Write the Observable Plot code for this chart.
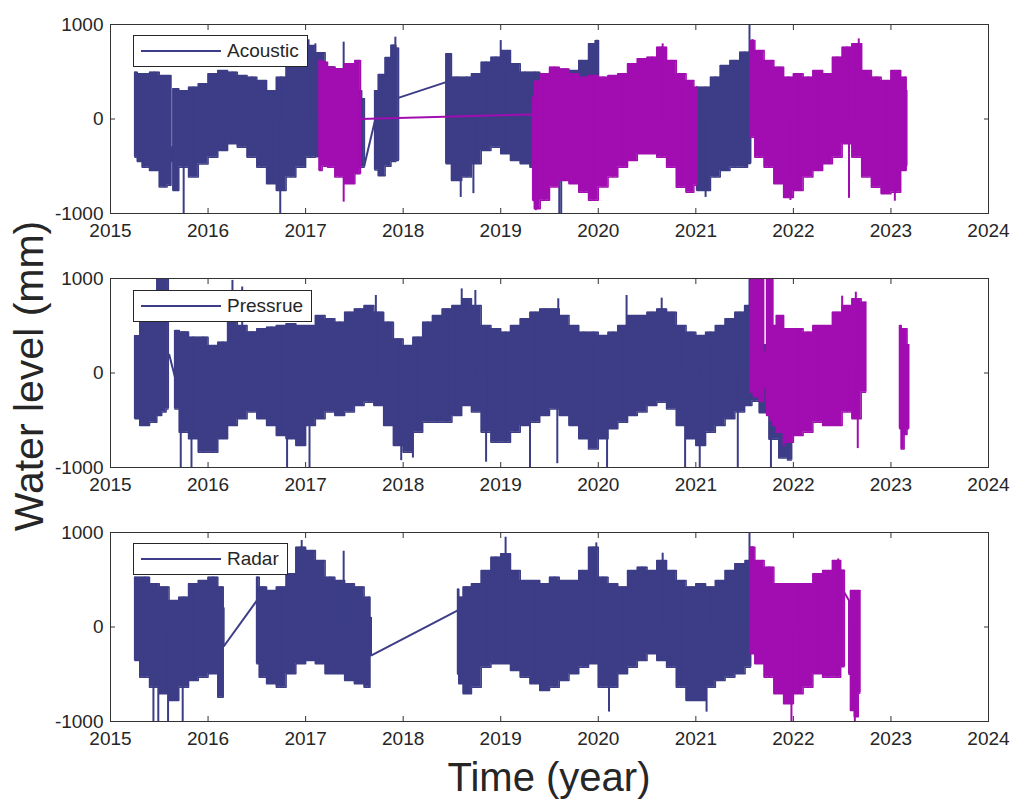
<!DOCTYPE html>
<html><head><meta charset="utf-8">
<script src="https://cdn.jsdelivr.net/npm/d3@7"></script>
<script src="https://cdn.jsdelivr.net/npm/@observablehq/plot@0.6"></script>
<style>
body{margin:0;background:#fff;font-family:"Liberation Sans",Arial,sans-serif;}
#wrap{position:relative;width:1013px;height:801px;overflow:hidden;}
.panel{position:absolute;left:0;}
.legend{position:absolute;left:133px;background:#fff;border:1px solid #262626;height:32px;box-sizing:border-box;}
.legend .ln{position:absolute;left:7px;width:80px;top:14px;height:2px;}
.legend .tx{position:absolute;left:93px;top:5px;font-size:19px;line-height:20px;color:#262626;white-space:nowrap;}
#titles{position:absolute;left:0;top:0;pointer-events:none;}
</style></head>
<body><div id="wrap"></div>
<script>
const BLUE = "#3c3d86", MAG = "#a10db1";
const yearTicks = [2015, 2016, 2017, 2018, 2019, 2020, 2021, 2022, 2023, 2024];
const levelTicks = [-1000, 0, 1000];
const panelNames = ["Acoustic", "Pressrue", "Radar"];
const yTitle = "Water level (mm)";
const xTitle = "Time (year)";

// envelope segments: [year, upper, lower] (mm)
const acousticBlue = [
 [[2015.25,495,-404],[2015.30,480,-450],[2015.35,478,-510],[2015.45,495,-545],[2015.55,460,-720],[2015.61,460,-700],[2015.63,-300,-450],[2015.65,320,-757],[2015.75,300,-510],[2015.85,337,-615],[2015.95,372,-475],[2016.05,478,-404],[2016.15,513,-333],[2016.25,495,-263],[2016.35,460,-298],[2016.45,443,-404],[2016.55,407,-510],[2016.65,300,-686],[2016.75,443,-757],[2016.85,619,-615],[2016.95,760,-510],[2017.05,778,-404],[2017.15,700,-400],[2017.25,550,-450],[2017.35,500,-500],[2017.45,500,-500],[2017.55,300,-510],[2017.60,213,-510]],
 [[2017.71,300,-540],[2017.78,470,-600],[2017.85,650,-500],[2017.90,780,-450],[2017.95,750,-440]],
 [[2018.44,690,-474],[2018.55,443,-651],[2018.65,443,-615],[2018.75,478,-474],[2018.85,601,-333],[2018.95,654,-298],[2019.05,725,-369],[2019.15,584,-439],[2019.25,495,-474],[2019.35,495,-510],[2019.45,443,-510],[2019.55,478,-545],[2019.65,443,-615],[2019.75,513,-545],[2019.85,619,-510],[2019.95,795,-474],[2020.00,830,-300]],
 [[2021.01,337,-757],[2021.10,337,-757],[2021.20,443,-615],[2021.30,566,-545],[2021.40,619,-510],[2021.50,707,-510],[2021.56,707,-470]]
];
const acousticBlueLinks = [[2017.60,-500,2017.71,-20],[2017.95,224,2018.44,390],[2020.00,-100,2021.01,-200]];
const acousticBlueSpikes = [[2015.75,-1000],[2016.74,-1000],[2017.03,838],[2017.10,795],[2017.39,813],[2017.92,866],[2018.59,-830],[2018.72,-790],[2019.00,830],[2019.60,-1000],[2019.62,-1000],[2019.97,830],[2019.99,830],[2021.10,-830],[2021.55,1000]];

const acousticMag = [
 [[2017.14,619,-545],[2017.20,600,-500],[2017.25,548,-510],[2017.35,531,-615],[2017.45,584,-686],[2017.56,619,-580]],
 [[2019.33,230,-862],[2019.36,400,-950],[2019.45,478,-860],[2019.55,548,-720],[2019.65,530,-651],[2019.75,478,-686],[2019.85,443,-774],[2019.95,460,-860],[2020.05,443,-720],[2020.15,460,-615],[2020.25,478,-510],[2020.35,584,-439],[2020.45,637,-369],[2020.55,654,-369],[2020.65,760,-404],[2020.75,620,-510],[2020.85,478,-721],[2020.95,407,-774],[2021.01,337,-700]],
 [[2021.56,830,-192],[2021.65,725,-404],[2021.75,619,-510],[2021.85,548,-686],[2021.95,443,-830],[2022.05,478,-757],[2022.15,443,-615],[2022.25,513,-545],[2022.35,478,-474],[2022.45,654,-404],[2022.55,760,-263],[2022.65,795,-404],[2022.75,513,-615],[2022.85,443,-721],[2022.95,407,-792],[2023.05,513,-774],[2023.15,443,-545],[2023.16,300,-500]]
];
const acousticMagLinks = [[2017.56,0,2019.33,48]];
const acousticMagSpikes = [[2017.39,-880],[2019.36,-970],[2020.66,795],[2021.58,840],[2021.97,-862],[2022.57,-840],[2022.67,848],[2023.04,-870]];

const pressureBlue = [
 [[2015.25,395,-485],[2015.35,538,-556],[2015.45,642,-520],[2015.50,1050,-450],[2015.55,1100,-414],[2015.59,1100,-380]],
 [[2015.66,450,-380],[2015.75,434,-626],[2015.85,379,-697],[2015.95,379,-838],[2016.05,291,-838],[2016.15,326,-697],[2016.25,538,-556],[2016.35,502,-485],[2016.45,434,-414],[2016.55,467,-485],[2016.65,485,-556],[2016.75,502,-661],[2016.85,520,-697],[2016.95,502,-767],[2017.05,502,-556],[2017.15,608,-485],[2017.25,573,-414],[2017.35,538,-450],[2017.45,642,-414],[2017.55,677,-344],[2017.65,714,-309],[2017.75,642,-344],[2017.85,538,-556],[2017.95,361,-767],[2018.05,291,-838],[2018.15,379,-626],[2018.25,538,-520],[2018.35,608,-520],[2018.45,677,-520],[2018.55,714,-450],[2018.65,785,-344],[2018.75,714,-414],[2018.85,502,-626],[2018.95,467,-732],[2019.05,432,-732],[2019.15,502,-626],[2019.25,573,-556],[2019.35,642,-520],[2019.45,677,-450],[2019.55,677,-380],[2019.65,608,-450],[2019.75,502,-556],[2019.85,432,-697],[2019.95,432,-803],[2020.05,397,-697],[2020.15,432,-590],[2020.25,502,-520],[2020.35,608,-450],[2020.45,608,-414],[2020.55,642,-344],[2020.65,677,-309],[2020.75,642,-380],[2020.85,502,-556],[2020.95,432,-697],[2021.05,397,-767],[2021.15,432,-626],[2021.25,502,-556],[2021.35,573,-485],[2021.45,642,-414],[2021.55,714,-344],[2021.60,600,-300],[2021.70,300,-420],[2021.80,250,-700],[2021.90,250,-900],[2021.98,200,-920]]
];
const pressureBlueLinks = [[2015.60,200,2015.66,-40]];
const pressureBlueSpikes = [[2015.72,-1000],[2015.83,-1000],[2016.25,980],[2016.35,910],[2016.81,-1000],[2017.04,-1000],[2017.72,820],[2017.98,-928],[2018.10,-900],[2018.60,890],[2018.74,873],[2018.85,-944],[2019.30,-1000],[2019.58,-960],[2019.59,785],[2020.09,-1000],[2020.29,820],[2020.65,792],[2020.89,-1000],[2021.04,-1000],[2021.43,-1000],[2021.55,1000],[2021.77,-1000]];

const pressureMag = [
 [[2021.56,1100,-203],[2021.62,1100,-250],[2021.68,1000,-300],[2021.71,220,-150],[2021.74,1100,-450],[2021.78,1100,-500],[2021.80,502,-556],[2021.85,608,-626],[2021.95,467,-732],[2022.05,467,-661],[2022.15,432,-626],[2022.25,502,-520],[2022.35,502,-556],[2022.45,642,-556],[2022.55,714,-414],[2022.65,785,-485],[2022.74,750,-203]],
 [[2023.09,502,-590],[2023.12,467,-803],[2023.15,467,-650],[2023.18,300,-590]]
];
const pressureMagLinks = [];
const pressureMagSpikes = [[2021.90,-780],[2022.50,813],[2022.64,855],[2022.66,-800]];

const radarBlue = [
 [[2015.25,527,-354],[2015.35,527,-531],[2015.45,457,-637],[2015.55,422,-707],[2015.65,280,-778],[2015.75,316,-637],[2015.85,457,-566],[2015.95,492,-531],[2016.05,527,-496],[2016.15,422,-743],[2016.16,200,-206]],
 [[2016.50,527,-390],[2016.55,422,-531],[2016.65,386,-601],[2016.75,422,-637],[2016.85,563,-496],[2016.95,845,-390],[2017.05,810,-354],[2017.15,704,-390],[2017.25,527,-496],[2017.35,492,-496],[2017.45,457,-566],[2017.55,422,-601],[2017.65,316,-637],[2017.67,100,-302]],
 [[2018.56,400,-500],[2018.58,316,-601],[2018.65,422,-707],[2018.75,457,-637],[2018.85,598,-425],[2018.95,739,-390],[2019.05,774,-390],[2019.15,598,-460],[2019.25,492,-531],[2019.35,492,-601],[2019.45,457,-672],[2019.55,527,-637],[2019.65,492,-566],[2019.75,492,-496],[2019.85,598,-425],[2019.95,845,-390],[2020.05,527,-637],[2020.15,457,-637],[2020.25,422,-496],[2020.35,598,-425],[2020.45,633,-354],[2020.55,598,-284],[2020.65,704,-354],[2020.75,598,-425],[2020.85,492,-637],[2020.95,422,-778],[2021.05,457,-778],[2021.15,422,-637],[2021.25,492,-566],[2021.35,598,-531],[2021.45,668,-496],[2021.56,704,-425]]
];
const radarBlueLinks = [[2016.16,-206,2016.50,280],[2017.67,-302,2018.56,175]];
const radarBlueSpikes = [[2015.44,-1000],[2015.49,-1000],[2015.59,-1000],[2015.74,-1000],[2016.96,915],[2017.39,802],[2019.05,950],[2019.98,890],[2020.11,-900],[2020.66,781],[2021.11,-901],[2021.55,1000]];

const radarMag = [
 [[2021.56,845,-284],[2021.65,704,-390],[2021.75,633,-531],[2021.85,457,-707],[2021.95,457,-813],[2022.05,457,-707],[2022.15,457,-637],[2022.25,563,-496],[2022.35,598,-531],[2022.45,704,-531],[2022.52,600,-420]],
 [[2022.57,280,-500],[2022.60,386,-884],[2022.65,386,-950],[2022.68,386,-700]]
];
const radarMagLinks = [[2022.52,369,2022.57,280]];
const radarMagSpikes = [[2021.58,850],[2021.98,-1000],[2022.46,720],[2022.63,-1000]];

const panels = [
  [{color: BLUE, segs: acousticBlue, links: acousticBlueLinks, spikes: acousticBlueSpikes},
   {color: MAG, segs: acousticMag, links: acousticMagLinks, spikes: acousticMagSpikes}],
  [{color: BLUE, segs: pressureBlue, links: pressureBlueLinks, spikes: pressureBlueSpikes},
   {color: MAG, segs: pressureMag, links: pressureMagLinks, spikes: pressureMagSpikes}],
  [{color: BLUE, segs: radarBlue, links: radarBlueLinks, spikes: radarBlueSpikes},
   {color: MAG, segs: radarMag, links: radarMagLinks, spikes: radarMagSpikes}]
];

function rows(segs){ return segs.flatMap((s,i)=>s.map(([t,hi,lo])=>({t,hi,lo,seg:i}))); }

const wrap = document.getElementById("wrap");
const legendWidths = [175, 179, 155];
const legendTops = [35, 290, 543];
const AX = "#333";

panels.forEach((series, pi) => {
  const marks = [];
  for (const s of series) {
    const d = rows(s.segs);
    marks.push(Plot.areaY(d, {x:"t", y1:"lo", y2:"hi", z:"seg", fill:s.color, curve:"step", clip:true}));
    marks.push(Plot.lineY(d, {x:"t", y:"hi", z:"seg", stroke:s.color, strokeWidth:1.5, curve:"step", clip:true}));
    marks.push(Plot.lineY(d, {x:"t", y:"lo", z:"seg", stroke:s.color, strokeWidth:1.5, curve:"step", clip:true}));
    marks.push(Plot.ruleX(d, {x:"t", y1:"lo", y2:"hi", stroke:s.color, strokeWidth:2, clip:true}));
    marks.push(Plot.ruleX(s.spikes.map(([t,v])=>({t,v})), {x:"t", y1:0, y2:"v", stroke:s.color, strokeWidth:2, clip:true}));
    marks.push(Plot.link(s.links.map(([t1,v1,t2,v2])=>({t1,v1,t2,v2})), {x1:"t1", y1:"v1", x2:"t2", y2:"v2", stroke:s.color, strokeWidth:2, clip:true}));
  }
  marks.push(Plot.frame({stroke: AX, strokeWidth: 1}));
  marks.push(Plot.axisX({ticks: yearTicks, anchor:"bottom", tickSize:0, tickPadding:10, tickFormat:d=>String(d), fontSize:19, label:null}));
  marks.push(Plot.axisX({ticks: yearTicks, anchor:"bottom", tickSize:5, dy:-5, tickFormat:()=>"", label:null, stroke:AX}));
  marks.push(Plot.axisX({ticks: yearTicks, anchor:"top", tickSize:5, dy:5, tickFormat:()=>"", label:null, stroke:AX}));
  marks.push(Plot.axisY({ticks: levelTicks, anchor:"left", tickSize:0, tickPadding:7, tickFormat:d=>String(d), fontSize:19, label:null}));
  marks.push(Plot.axisY({ticks: levelTicks, anchor:"left", tickSize:5, dx:5, tickFormat:()=>"", label:null, stroke:AX}));
  marks.push(Plot.axisY({ticks: levelTicks, anchor:"right", tickSize:5, dx:-5, tickFormat:()=>"", label:null, stroke:AX}));
  const svg = Plot.plot({
    width:1013, height:253, marginTop:24, marginBottom:40, marginLeft:110, marginRight:25,
    x:{domain:[2015,2024], label:null}, y:{domain:[-1000,1000], label:null},
    style:{fontFamily:'"Liberation Sans", Arial, sans-serif', fontSize:"19px", color:"#262626", background:"transparent"},
    marks
  });
  const box = document.createElement("div");
  box.className = "panel";
  box.style.top = (pi*254) + "px";
  box.appendChild(svg);
  wrap.appendChild(box);

  const lg = document.createElement("div");
  lg.className = "legend";
  lg.style.top = legendTops[pi] + "px";
  lg.style.width = legendWidths[pi] + "px";
  const ln = document.createElement("div"); ln.className = "ln"; ln.style.background = BLUE;
  const tx = document.createElement("div"); tx.className = "tx"; tx.textContent = panelNames[pi];
  lg.appendChild(ln); lg.appendChild(tx);
  wrap.appendChild(lg);
});

const ns = "http://www.w3.org/2000/svg";
const t = document.createElementNS(ns, "svg");
t.setAttribute("id", "titles"); t.setAttribute("width", 1013); t.setAttribute("height", 801);
const yt = document.createElementNS(ns, "text");
yt.setAttribute("transform", "translate(43,376) rotate(-90)");
yt.setAttribute("text-anchor", "middle");
yt.setAttribute("font-size", "41");
yt.setAttribute("font-family", '"Liberation Sans", Arial, sans-serif');
yt.setAttribute("fill", "#262626");
yt.textContent = yTitle;
const xt = document.createElementNS(ns, "text");
xt.setAttribute("x", 549); xt.setAttribute("y", 791);
xt.setAttribute("text-anchor", "middle");
xt.setAttribute("font-size", "40");
xt.setAttribute("font-family", '"Liberation Sans", Arial, sans-serif');
xt.setAttribute("fill", "#262626");
xt.textContent = xTitle;
t.appendChild(yt); t.appendChild(xt);
wrap.appendChild(t);
</script>
</body></html>
